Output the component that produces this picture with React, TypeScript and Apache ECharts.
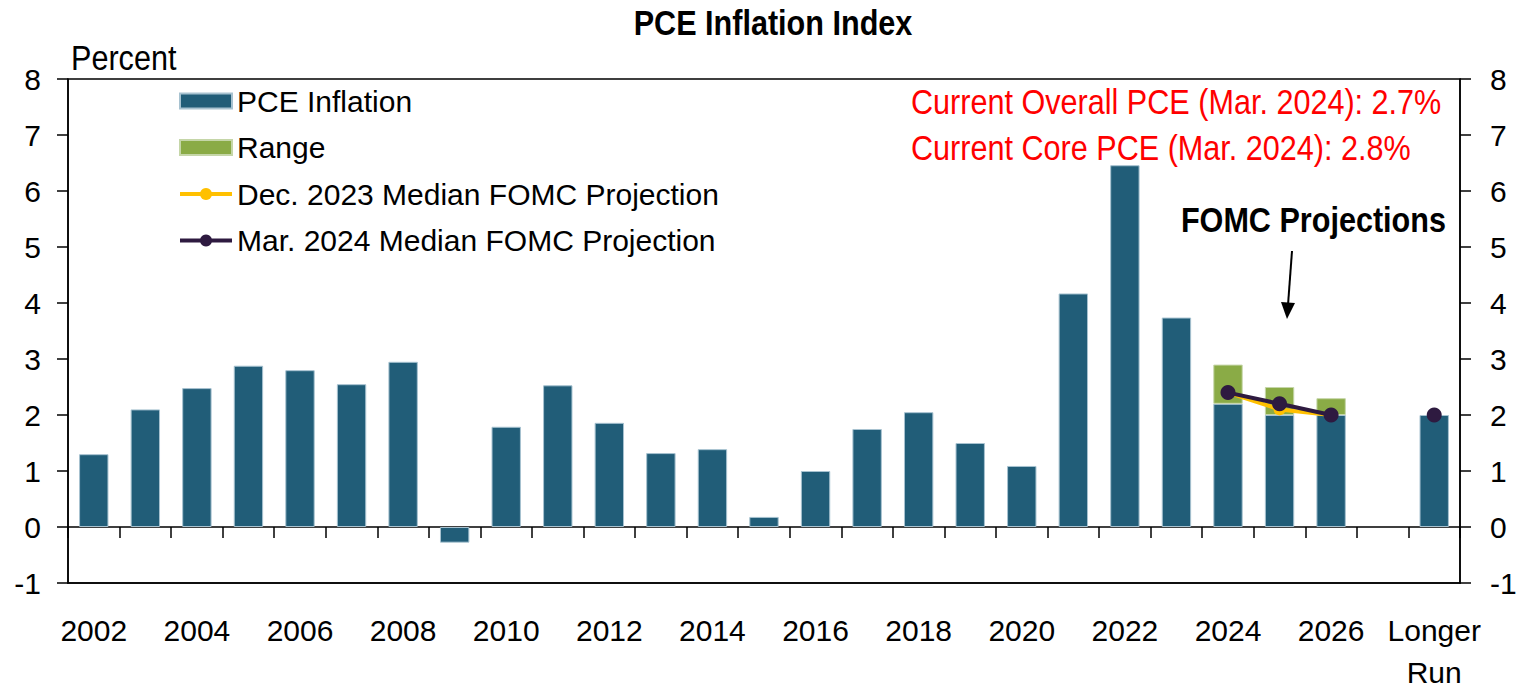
import React, { useEffect, useRef } from "react";
import * as echarts from "echarts";

const categories = [
  "2002", "2003", "2004", "2005", "2006", "2007", "2008", "2009", "2010",
  "2011", "2012", "2013", "2014", "2015", "2016", "2017", "2018", "2019",
  "2020", "2021", "2022", "2023", "2024", "2025", "2026", "", "Longer\nRun",
];
const pceValues: (number | string)[] = [
  1.3, 2.1, 2.48, 2.88, 2.8, 2.55, 2.95, -0.28, 1.79, 2.53, 1.86, 1.32, 1.39,
  0.18, 1.0, 1.75, 2.05, 1.5, 1.09, 4.17, 6.46, 3.74, 2.2, 2.0, 2.0, "-", 2.0,
];
const rangeValues: (number | string)[] = [
  "-", "-", "-", "-", "-", "-", "-", "-", "-", "-", "-", "-", "-", "-", "-",
  "-", "-", "-", "-", "-", "-", "-", 0.7, 0.5, 0.3, "-", "-",
];
const dec2023Median: (number | string)[] = [
  "-", "-", "-", "-", "-", "-", "-", "-", "-", "-", "-", "-", "-", "-", "-",
  "-", "-", "-", "-", "-", "-", "-", 2.4, 2.1, 2.0, "-", 2.0,
];
const mar2024Median: (number | string)[] = [
  "-", "-", "-", "-", "-", "-", "-", "-", "-", "-", "-", "-", "-", "-", "-",
  "-", "-", "-", "-", "-", "-", "-", 2.4, 2.2, 2.0, "-", 2.0,
];
const yTicks = { min: -1, max: 8, interval: 1 };

const FONT = "'Liberation Sans', Arial, sans-serif";
const NARROW = 0.85;

function label(text: string, x: number, y: number, opts: any = {}) {
  return {
    type: "text",
    x,
    y,
    scaleX: NARROW,
    style: {
      text,
      font: `${opts.bold ? "bold " : ""}${opts.size || 36}px ${FONT}`,
      fill: opts.color || "#000",
      align: opts.align || "left",
      verticalAlign: "middle",
    },
  };
}

export default function App() {
  const ref = useRef<HTMLDivElement>(null);
  useEffect(() => {
    if (!ref.current) return;
    document.body.style.margin = "0";
    const chart = echarts.init(ref.current, null, { renderer: "svg" });
    const option: any = {
      animation: false,
      backgroundColor: "#ffffff",
      textStyle: { fontFamily: FONT },
      grid: {
        left: 68, right: 59, top: 79, bottom: 103,
        outerBoundsMode: "none",
        containLabel: false,
        show: true, borderColor: "#000", borderWidth: 1.5,
      },
      legend: {
        orient: "vertical",
        left: 178,
        top: 83,
        padding: 0,
        itemWidth: 52,
        itemHeight: 15,
        itemGap: 10.5,
        textStyle: { fontFamily: FONT, fontSize: 30, color: "#000", lineHeight: 36 },
        data: [
          { name: "PCE Inflation", icon: "rect" },
          { name: "Range", icon: "rect" },
          { name: "Dec. 2023 Median FOMC Projection", lineStyle: { width: 4 } },
          { name: "Mar. 2024 Median FOMC Projection", lineStyle: { width: 4 } },
        ],
      },
      xAxis: [
        {
          type: "category",
          data: categories,
          position: "bottom",
          axisLine: { show: true, onZero: false, lineStyle: { color: "#000", width: 1.5 } },
          axisTick: { show: false },
          axisLabel: {
            interval: 1,
            fontFamily: FONT,
            fontSize: 30,
            color: "#000",
            margin: 26,
            lineHeight: 42,
          },
        },
        {
          type: "category",
          data: categories,
          position: "top",
          axisLine: { show: true, onZero: true, lineStyle: { color: "#000", width: 1.5 } },
          axisTick: { show: true, inside: true, interval: 0, length: 11, lineStyle: { color: "#000", width: 1.5 } },
          axisLabel: { show: false },
        },
      ],
      yAxis: [
        {
          type: "value",
          ...yTicks,
          position: "left",
          splitLine: { show: false },
          axisLine: { show: true, lineStyle: { color: "#000", width: 1.5 } },
          axisTick: { show: true, length: 11, lineStyle: { color: "#000", width: 1.5 } },
          axisLabel: { fontFamily: FONT, fontSize: 30, color: "#000", margin: 27 },
        },
        {
          type: "value",
          ...yTicks,
          position: "right",
          splitLine: { show: false },
          axisLine: { show: true, lineStyle: { color: "#000", width: 1.5 } },
          axisTick: { show: true, length: 11, lineStyle: { color: "#000", width: 1.5 } },
          axisLabel: { fontFamily: FONT, fontSize: 30, color: "#000", margin: 30 },
        },
      ],
      series: [
        {
          name: "PCE Inflation",
          type: "bar",
          stack: "pce",
          barWidth: "57%",
          data: pceValues,
          itemStyle: { color: "#215d78", borderColor: "#a7c2d0", borderWidth: 1 },
        },
        {
          name: "Range",
          type: "bar",
          stack: "pce",
          barWidth: "57%",
          data: rangeValues,
          itemStyle: { color: "#8aab46", borderColor: "#c5d6a8", borderWidth: 1 },
        },
        {
          name: "Dec. 2023 Median FOMC Projection",
          type: "line",
          data: dec2023Median,
          symbol: "circle",
          symbolSize: 12,
          lineStyle: { color: "#ffc000", width: 4 },
          itemStyle: { color: "#ffc000" },
          z: 3,
        },
        {
          name: "Mar. 2024 Median FOMC Projection",
          type: "line",
          data: mar2024Median,
          symbol: "circle",
          symbolSize: 15,
          lineStyle: { color: "#2e1a40", width: 4 },
          itemStyle: { color: "#2e1a40" },
          z: 4,
        },
      ],
      graphic: [
        label("PCE Inflation Index", 773, 23, { bold: true, align: "center" }),
        label("Percent", 71, 58),
        label("Current Overall PCE (Mar. 2024): 2.7%", 911, 102, { color: "#ff0000" }),
        label("Current Core PCE (Mar. 2024): 2.8%", 911, 148, { color: "#ff0000" }),
        label("FOMC Projections", 1446, 220, { bold: true, align: "right" }),
        {
          type: "line",
          shape: { x1: 1292, y1: 251, x2: 1288, y2: 305 },
          style: { stroke: "#000", lineWidth: 2 },
        },
        {
          type: "polygon",
          shape: { points: [[1281, 302], [1295, 303], [1287, 319]] },
          style: { fill: "#000" },
        },
      ],
    };
    chart.setOption(option);
    return () => chart.dispose();
  }, []);
  return <div ref={ref} style={{ width: 1519, height: 686 }} />;
}
